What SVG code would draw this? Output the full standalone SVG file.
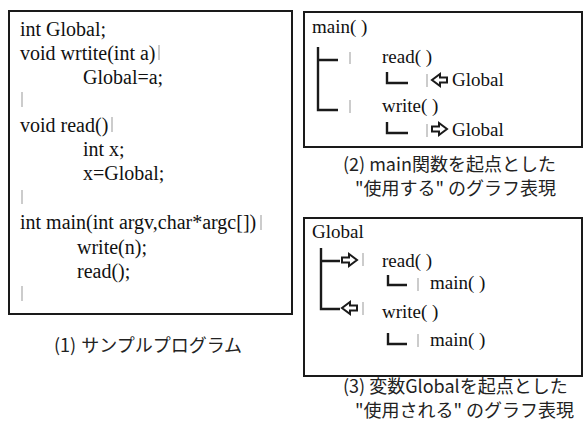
<svg xmlns="http://www.w3.org/2000/svg" width="583" height="422" viewBox="0 0 583 422">
<style>
.code{font-family:"Liberation Serif","Times New Roman",serif;font-size:20px;fill:#111}
.tree{font-family:"Liberation Serif","Times New Roman",serif;font-size:19px;fill:#111}
.cap{font-family:"Noto Sans CJK JP","Noto Sans",sans-serif;font-size:18px;fill:#222}
.box{fill:#fff;stroke:#1a1a1a;stroke-width:2}
.line{fill:none;stroke:#1a1a1a;stroke-width:2.4}
.faint{stroke:#aaa;stroke-width:1.2}
.arr{fill:#fff;stroke:#1a1a1a;stroke-width:2;stroke-linejoin:miter}
</style>
<defs>
<path id="ar" class="arr" d="M0,-2.5 H7 V-6 L15,0 L7,6 V2.5 H0 Z"/>
<path id="al" class="arr" d="M15,-2.5 H8 V-6 L0,0 L8,6 V2.5 H15 Z"/>
</defs>
<rect width="583" height="422" fill="#fff"/>

<g id="program">
<rect class="box" x="9" y="11" width="283" height="303"/>
<text class="code" x="20" y="36">int Global;</text>
<text class="code" x="20" y="60">void wrtite(int a)</text>
<text class="code" x="83" y="84">Global=a;</text>
<text class="code" x="20" y="132">void read()</text>
<text class="code" x="83" y="156">int x;</text>
<text class="code" x="83" y="180">x=Global;</text>
<text class="code" x="20" y="229">int main(int argv,char*argc[])</text>
<text class="code" x="77" y="254">write(n);</text>
<text class="code" x="77" y="278">read();</text>
<line class="faint" x1="159" y1="45" x2="159" y2="60"/>
<line class="faint" x1="22" y1="92" x2="22" y2="107"/>
<line class="faint" x1="112" y1="117" x2="112" y2="132"/>
<line class="faint" x1="22" y1="190" x2="22" y2="204"/>
<line class="faint" x1="261" y1="215" x2="261" y2="230"/>
<line class="faint" x1="22" y1="286" x2="22" y2="301"/>
<text class="cap" x="54" y="352">(1)<tspan dx="5">サンプルプログラム</tspan></text>
</g>

<g id="uses-graph">
<rect class="box" x="304" y="12" width="278" height="135"/>
<text class="tree" x="312" y="33">main( )</text>
<text class="tree" x="382" y="63">read( )</text>
<text class="tree" x="452" y="86">Global</text>
<text class="tree" x="382" y="112">write( )</text>
<text class="tree" x="452" y="136">Global</text>
<text class="cap" x="343" y="171">(2)<tspan dx="4">main関数を起点とした</tspan></text>
<text class="cap" x="355" y="195">"使用する" のグラフ表現</text>
</g>

<g id="used-by-graph">
<rect class="box" x="304" y="218" width="278" height="158"/>
<text class="tree" x="312" y="238">Global</text>
<text class="tree" x="382" y="267">read( )</text>
<text class="tree" x="430" y="289">main( )</text>
<text class="tree" x="382" y="318">write( )</text>
<text class="tree" x="430" y="346">main( )</text>
<text class="cap" x="343" y="393">(3)<tspan dx="4">変数Globalを起点とした</tspan></text>
<text class="cap" x="355" y="417">"使用される" のグラフ表現</text>
</g>

<g id="connectors">
<path class="line" d="M318,47 V110 H338 M318,60 H338"/>
<path class="line" d="M387,72 V83 H408"/>
<path class="line" d="M387,122 V133 H408"/>
<line class="faint" x1="350" y1="52" x2="350" y2="64"/>
<line class="faint" x1="350" y1="100" x2="350" y2="113"/>
<line class="faint" x1="427" y1="74" x2="427" y2="87"/>
<line class="faint" x1="427" y1="124" x2="427" y2="137"/>
<use href="#al" x="432" y="80"/>
<use href="#ar" x="432" y="129"/>

<path class="line" d="M321,248 V309 H340 M321,261 H340"/>
<path class="line" d="M388,275 V285 H407"/>
<path class="line" d="M388,333 V344 H407"/>
<line class="faint" x1="363" y1="253" x2="363" y2="266"/>
<line class="faint" x1="363" y1="302" x2="363" y2="315"/>
<line class="faint" x1="418" y1="278" x2="418" y2="291"/>
<line class="faint" x1="418" y1="334" x2="418" y2="347"/>
<use href="#ar" x="342" y="260"/>
<use href="#al" x="342" y="308"/>
</g>
</svg>
